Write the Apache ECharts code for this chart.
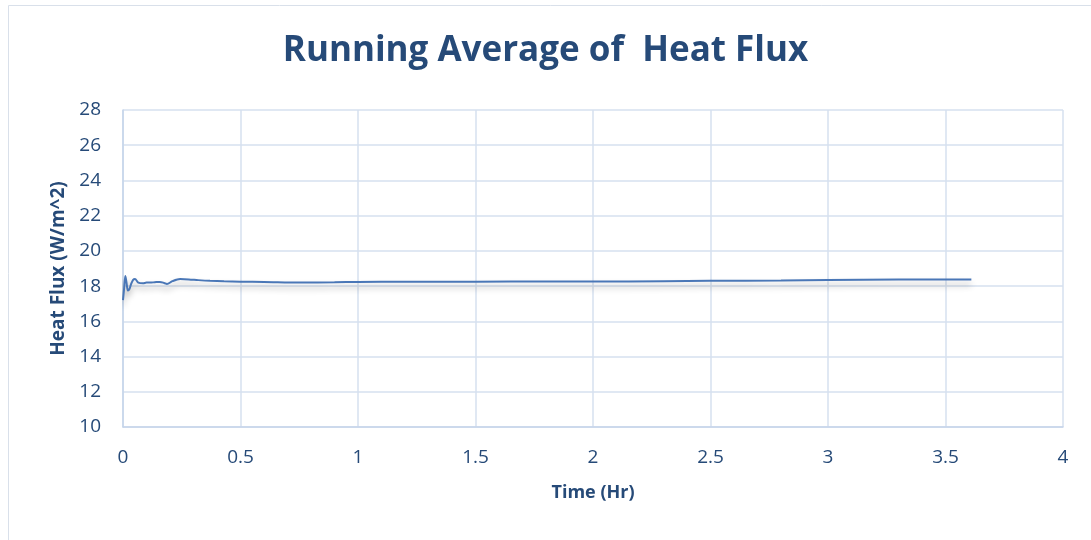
<!DOCTYPE html>
<html><head><meta charset="utf-8">
<script src="https://cdn.jsdelivr.net/npm/echarts@6/dist/echarts.min.js"></script>
<style>html,body{margin:0;padding:0;background:#fff}#c{width:1091px;height:540px}</style>
</head><body><div id="c"></div>
<script>
const timeHr = [0.0, 0.005, 0.01, 0.015, 0.021, 0.028, 0.034, 0.043, 0.051, 0.065, 0.085, 0.1, 0.115, 0.135, 0.157, 0.175, 0.187, 0.21, 0.243, 0.28, 0.32, 0.37, 0.43, 0.5, 0.6, 0.75, 0.9, 1.0, 1.2, 1.5, 1.8, 2.0, 2.3, 2.5, 2.8, 3.0, 3.3, 3.61];
const heatFlux = [17.2, 17.9, 18.58, 18.2, 17.75, 17.85, 18.1, 18.35, 18.4, 18.2, 18.16, 18.2, 18.2, 18.22, 18.24, 18.18, 18.12, 18.28, 18.4, 18.38, 18.34, 18.3, 18.27, 18.25, 18.24, 18.2, 18.22, 18.24, 18.25, 18.25, 18.26, 18.26, 18.28, 18.3, 18.32, 18.35, 18.37, 18.38];
const yTicks = [10, 12, 14, 16, 18, 20, 22, 24, 26, 28];
const xTicks = [0, 0.5, 1, 1.5, 2, 2.5, 3, 3.5, 4];

const textColor = '#264a78';
const gridColor = '#d6e0ef';
const chart = echarts.init(document.getElementById('c'), null, {renderer: 'canvas'});
chart.setOption({
  animation: false,
  backgroundColor: '#fff',
  graphic: [{type: 'rect', shape: {x: 8.5, y: 5.5, width: 1090, height: 540}, style: {fill: 'none', stroke: '#d9e0ea', lineWidth: 1}}],
  title: {text: 'Running Average of  Heat Flux', left: 'center', top: 29,
    textStyle: {fontFamily: 'Open Sans', fontWeight: 'bold', fontSize: 35, color: textColor}},
  grid: {left: 123, right: 28, top: 110, bottom: 113},
  xAxis: {type: 'value', min: xTicks[0], max: xTicks[xTicks.length - 1], interval: 0.5,
    name: 'Time (Hr)', nameLocation: 'middle', nameGap: 57,
    nameTextStyle: {fontFamily: 'Open Sans', fontWeight: 'bold', fontSize: 18, color: textColor},
    axisLine: {lineStyle: {color: '#c5d4ea', width: 1.5}},
    axisTick: {show: false},
    axisLabel: {fontFamily: 'Open Sans', fontSize: 19, color: textColor, margin: 21},
    splitLine: {show: true, lineStyle: {color: gridColor, width: 1.5}}},
  yAxis: {type: 'value', min: yTicks[0], max: yTicks[yTicks.length - 1], interval: 2,
    name: 'Heat Flux (W/m^2)', nameLocation: 'middle', nameGap: 54,
    nameTextStyle: {fontFamily: 'Open Sans', fontWeight: 'bold', fontSize: 19, color: textColor},
    axisLine: {show: true, lineStyle: {color: '#c5d4ea', width: 1.5}},
    axisTick: {show: false},
    axisLabel: {fontFamily: 'Open Sans', fontSize: 19, color: textColor, margin: 22},
    splitLine: {show: true, lineStyle: {color: gridColor, width: 1.5}}},
  series: [{type: 'line', data: timeHr.map((t, i) => [t, heatFlux[i]]), showSymbol: false, smooth: 0.3,
    lineStyle: {color: '#4a77b7', width: 2, shadowColor: 'rgba(0,0,0,0.3)', shadowBlur: 6, shadowOffsetY: 5}}]
});
</script></body></html>
